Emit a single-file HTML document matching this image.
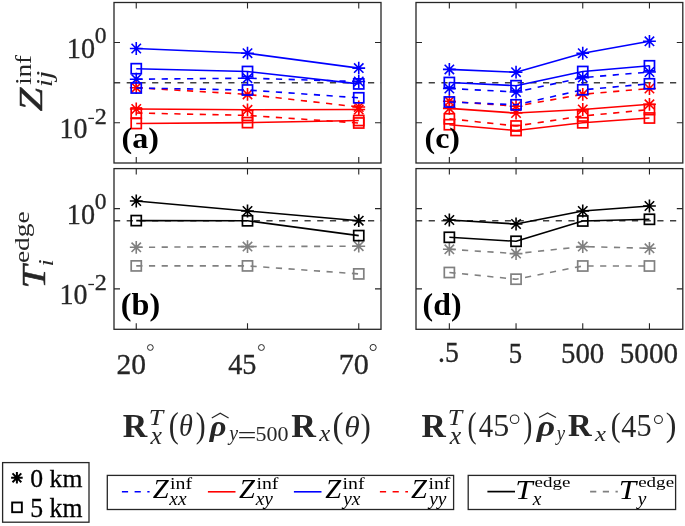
<!DOCTYPE html>
<html><head><meta charset="utf-8"><style>
html,body{margin:0;padding:0;background:#fff;}
svg{display:block;font-family:"Liberation Serif", serif;will-change:transform;}
</style></head><body>
<svg width="685" height="526" viewBox="0 0 685 526">
<rect width="685" height="526" fill="#fff"/>
<path d="M114 82.7H381" stroke="#404040" stroke-width="1.4" stroke-dasharray="6.2 6.5"/>
<path d="M416 82.7H682.8" stroke="#404040" stroke-width="1.4" stroke-dasharray="6.2 6.5"/>
<path d="M114 220.7H381" stroke="#404040" stroke-width="1.4" stroke-dasharray="6.2 6.5"/>
<path d="M416 220.7H682.8" stroke="#404040" stroke-width="1.4" stroke-dasharray="6.2 6.5"/>
<polyline points="136.25,79.20 247.50,78.20 358.75,81.50" stroke="#0000ff" stroke-width="1.6" fill="none" stroke-dasharray="6.2 6.5" stroke-linejoin="round"/>
<path d="M129.85 79.20H142.65M136.25 72.80V85.60M131.55 74.50L140.95 83.90M131.55 83.90L140.95 74.50" stroke="#0000ff" stroke-width="1.6" fill="none"/>
<path d="M241.10 78.20H253.90M247.50 71.80V84.60M242.80 73.50L252.20 82.90M242.80 82.90L252.20 73.50" stroke="#0000ff" stroke-width="1.6" fill="none"/>
<path d="M352.35 81.50H365.15M358.75 75.10V87.90M354.05 76.80L363.45 86.20M354.05 86.20L363.45 76.80" stroke="#0000ff" stroke-width="1.6" fill="none"/>
<polyline points="136.25,109.00 247.50,109.80 358.75,109.50" stroke="#ff0000" stroke-width="1.6" fill="none" stroke-linejoin="round"/>
<path d="M129.85 109.00H142.65M136.25 102.60V115.40M131.55 104.30L140.95 113.70M131.55 113.70L140.95 104.30" stroke="#ff0000" stroke-width="1.6" fill="none"/>
<path d="M241.10 109.80H253.90M247.50 103.40V116.20M242.80 105.10L252.20 114.50M242.80 114.50L252.20 105.10" stroke="#ff0000" stroke-width="1.6" fill="none"/>
<path d="M352.35 109.50H365.15M358.75 103.10V115.90M354.05 104.80L363.45 114.20M354.05 114.20L363.45 104.80" stroke="#ff0000" stroke-width="1.6" fill="none"/>
<polyline points="136.25,48.50 247.50,53.20 358.75,68.10" stroke="#0000ff" stroke-width="1.6" fill="none" stroke-linejoin="round"/>
<path d="M129.85 48.50H142.65M136.25 42.10V54.90M131.55 43.80L140.95 53.20M131.55 53.20L140.95 43.80" stroke="#0000ff" stroke-width="1.6" fill="none"/>
<path d="M241.10 53.20H253.90M247.50 46.80V59.60M242.80 48.50L252.20 57.90M242.80 57.90L252.20 48.50" stroke="#0000ff" stroke-width="1.6" fill="none"/>
<path d="M352.35 68.10H365.15M358.75 61.70V74.50M354.05 63.40L363.45 72.80M354.05 72.80L363.45 63.40" stroke="#0000ff" stroke-width="1.6" fill="none"/>
<polyline points="136.25,87.70 247.50,94.40 358.75,107.00" stroke="#ff0000" stroke-width="1.6" fill="none" stroke-dasharray="6.2 6.5" stroke-linejoin="round"/>
<path d="M129.85 87.70H142.65M136.25 81.30V94.10M131.55 83.00L140.95 92.40M131.55 92.40L140.95 83.00" stroke="#ff0000" stroke-width="1.6" fill="none"/>
<path d="M241.10 94.40H253.90M247.50 88.00V100.80M242.80 89.70L252.20 99.10M242.80 99.10L252.20 89.70" stroke="#ff0000" stroke-width="1.6" fill="none"/>
<path d="M352.35 107.00H365.15M358.75 100.60V113.40M354.05 102.30L363.45 111.70M354.05 111.70L363.45 102.30" stroke="#ff0000" stroke-width="1.6" fill="none"/>
<polyline points="136.25,88.00 247.50,90.00 358.75,97.80" stroke="#0000ff" stroke-width="1.6" fill="none" stroke-dasharray="6.2 6.5" stroke-linejoin="round"/>
<rect x="131.20" y="82.95" width="10.10" height="10.10" stroke="#0000ff" stroke-width="1.7" fill="none"/>
<rect x="242.45" y="84.95" width="10.10" height="10.10" stroke="#0000ff" stroke-width="1.7" fill="none"/>
<rect x="353.70" y="92.75" width="10.10" height="10.10" stroke="#0000ff" stroke-width="1.7" fill="none"/>
<polyline points="136.25,123.50 247.50,122.60 358.75,120.50" stroke="#ff0000" stroke-width="1.6" fill="none" stroke-linejoin="round"/>
<rect x="131.20" y="118.45" width="10.10" height="10.10" stroke="#ff0000" stroke-width="1.7" fill="none"/>
<rect x="242.45" y="117.55" width="10.10" height="10.10" stroke="#ff0000" stroke-width="1.7" fill="none"/>
<rect x="353.70" y="115.45" width="10.10" height="10.10" stroke="#ff0000" stroke-width="1.7" fill="none"/>
<polyline points="136.25,68.70 247.50,71.50 358.75,83.90" stroke="#0000ff" stroke-width="1.6" fill="none" stroke-linejoin="round"/>
<rect x="131.20" y="63.65" width="10.10" height="10.10" stroke="#0000ff" stroke-width="1.7" fill="none"/>
<rect x="242.45" y="66.45" width="10.10" height="10.10" stroke="#0000ff" stroke-width="1.7" fill="none"/>
<rect x="353.70" y="78.85" width="10.10" height="10.10" stroke="#0000ff" stroke-width="1.7" fill="none"/>
<polyline points="136.25,113.00 247.50,115.40 358.75,123.00" stroke="#ff0000" stroke-width="1.6" fill="none" stroke-dasharray="6.2 6.5" stroke-linejoin="round"/>
<rect x="131.20" y="107.95" width="10.10" height="10.10" stroke="#ff0000" stroke-width="1.7" fill="none"/>
<rect x="242.45" y="110.35" width="10.10" height="10.10" stroke="#ff0000" stroke-width="1.7" fill="none"/>
<rect x="353.70" y="117.95" width="10.10" height="10.10" stroke="#ff0000" stroke-width="1.7" fill="none"/>
<polyline points="449.35,88.50 516.05,92.00 582.75,77.60 649.45,72.00" stroke="#0000ff" stroke-width="1.6" fill="none" stroke-dasharray="6.2 6.5" stroke-linejoin="round"/>
<path d="M442.95 88.50H455.75M449.35 82.10V94.90M444.65 83.80L454.05 93.20M444.65 93.20L454.05 83.80" stroke="#0000ff" stroke-width="1.6" fill="none"/>
<path d="M509.65 92.00H522.45M516.05 85.60V98.40M511.35 87.30L520.75 96.70M511.35 96.70L520.75 87.30" stroke="#0000ff" stroke-width="1.6" fill="none"/>
<path d="M576.35 77.60H589.15M582.75 71.20V84.00M578.05 72.90L587.45 82.30M578.05 82.30L587.45 72.90" stroke="#0000ff" stroke-width="1.6" fill="none"/>
<path d="M643.05 72.00H655.85M649.45 65.60V78.40M644.75 67.30L654.15 76.70M644.75 76.70L654.15 67.30" stroke="#0000ff" stroke-width="1.6" fill="none"/>
<polyline points="449.35,108.40 516.05,113.00 582.75,109.50 649.45,104.30" stroke="#ff0000" stroke-width="1.6" fill="none" stroke-linejoin="round"/>
<path d="M442.95 108.40H455.75M449.35 102.00V114.80M444.65 103.70L454.05 113.10M444.65 113.10L454.05 103.70" stroke="#ff0000" stroke-width="1.6" fill="none"/>
<path d="M509.65 113.00H522.45M516.05 106.60V119.40M511.35 108.30L520.75 117.70M511.35 117.70L520.75 108.30" stroke="#ff0000" stroke-width="1.6" fill="none"/>
<path d="M576.35 109.50H589.15M582.75 103.10V115.90M578.05 104.80L587.45 114.20M578.05 114.20L587.45 104.80" stroke="#ff0000" stroke-width="1.6" fill="none"/>
<path d="M643.05 104.30H655.85M649.45 97.90V110.70M644.75 99.60L654.15 109.00M644.75 109.00L654.15 99.60" stroke="#ff0000" stroke-width="1.6" fill="none"/>
<polyline points="449.35,69.40 516.05,72.20 582.75,53.25 649.45,41.30" stroke="#0000ff" stroke-width="1.6" fill="none" stroke-linejoin="round"/>
<path d="M442.95 69.40H455.75M449.35 63.00V75.80M444.65 64.70L454.05 74.10M444.65 74.10L454.05 64.70" stroke="#0000ff" stroke-width="1.6" fill="none"/>
<path d="M509.65 72.20H522.45M516.05 65.80V78.60M511.35 67.50L520.75 76.90M511.35 76.90L520.75 67.50" stroke="#0000ff" stroke-width="1.6" fill="none"/>
<path d="M576.35 53.25H589.15M582.75 46.85V59.65M578.05 48.55L587.45 57.95M578.05 57.95L587.45 48.55" stroke="#0000ff" stroke-width="1.6" fill="none"/>
<path d="M643.05 41.30H655.85M649.45 34.90V47.70M644.75 36.60L654.15 46.00M644.75 46.00L654.15 36.60" stroke="#0000ff" stroke-width="1.6" fill="none"/>
<polyline points="449.35,101.30 516.05,106.20 582.75,94.30 649.45,88.50" stroke="#ff0000" stroke-width="1.6" fill="none" stroke-dasharray="6.2 6.5" stroke-linejoin="round"/>
<path d="M442.95 101.30H455.75M449.35 94.90V107.70M444.65 96.60L454.05 106.00M444.65 106.00L454.05 96.60" stroke="#ff0000" stroke-width="1.6" fill="none"/>
<path d="M509.65 106.20H522.45M516.05 99.80V112.60M511.35 101.50L520.75 110.90M511.35 110.90L520.75 101.50" stroke="#ff0000" stroke-width="1.6" fill="none"/>
<path d="M576.35 94.30H589.15M582.75 87.90V100.70M578.05 89.60L587.45 99.00M578.05 99.00L587.45 89.60" stroke="#ff0000" stroke-width="1.6" fill="none"/>
<path d="M643.05 88.50H655.85M649.45 82.10V94.90M644.75 83.80L654.15 93.20M644.75 93.20L654.15 83.80" stroke="#ff0000" stroke-width="1.6" fill="none"/>
<polyline points="449.35,102.00 516.05,104.80 582.75,89.80 649.45,83.80" stroke="#0000ff" stroke-width="1.6" fill="none" stroke-dasharray="6.2 6.5" stroke-linejoin="round"/>
<rect x="444.30" y="96.95" width="10.10" height="10.10" stroke="#0000ff" stroke-width="1.7" fill="none"/>
<rect x="511.00" y="99.75" width="10.10" height="10.10" stroke="#0000ff" stroke-width="1.7" fill="none"/>
<rect x="577.70" y="84.75" width="10.10" height="10.10" stroke="#0000ff" stroke-width="1.7" fill="none"/>
<rect x="644.40" y="78.75" width="10.10" height="10.10" stroke="#0000ff" stroke-width="1.7" fill="none"/>
<polyline points="449.35,124.70 516.05,130.50 582.75,122.80 649.45,118.00" stroke="#ff0000" stroke-width="1.6" fill="none" stroke-linejoin="round"/>
<rect x="444.30" y="119.65" width="10.10" height="10.10" stroke="#ff0000" stroke-width="1.7" fill="none"/>
<rect x="511.00" y="125.45" width="10.10" height="10.10" stroke="#ff0000" stroke-width="1.7" fill="none"/>
<rect x="577.70" y="117.75" width="10.10" height="10.10" stroke="#ff0000" stroke-width="1.7" fill="none"/>
<rect x="644.40" y="112.95" width="10.10" height="10.10" stroke="#ff0000" stroke-width="1.7" fill="none"/>
<polyline points="449.35,82.50 516.05,85.70 582.75,71.50 649.45,65.80" stroke="#0000ff" stroke-width="1.6" fill="none" stroke-linejoin="round"/>
<rect x="444.30" y="77.45" width="10.10" height="10.10" stroke="#0000ff" stroke-width="1.7" fill="none"/>
<rect x="511.00" y="80.65" width="10.10" height="10.10" stroke="#0000ff" stroke-width="1.7" fill="none"/>
<rect x="577.70" y="66.45" width="10.10" height="10.10" stroke="#0000ff" stroke-width="1.7" fill="none"/>
<rect x="644.40" y="60.75" width="10.10" height="10.10" stroke="#0000ff" stroke-width="1.7" fill="none"/>
<polyline points="449.35,118.80 516.05,126.00 582.75,116.00 649.45,109.60" stroke="#ff0000" stroke-width="1.6" fill="none" stroke-dasharray="6.2 6.5" stroke-linejoin="round"/>
<rect x="444.30" y="113.75" width="10.10" height="10.10" stroke="#ff0000" stroke-width="1.7" fill="none"/>
<rect x="511.00" y="120.95" width="10.10" height="10.10" stroke="#ff0000" stroke-width="1.7" fill="none"/>
<rect x="577.70" y="110.95" width="10.10" height="10.10" stroke="#ff0000" stroke-width="1.7" fill="none"/>
<rect x="644.40" y="104.55" width="10.10" height="10.10" stroke="#ff0000" stroke-width="1.7" fill="none"/>
<polyline points="136.25,201.00 247.50,211.00 358.75,220.70" stroke="#000000" stroke-width="1.6" fill="none" stroke-linejoin="round"/>
<path d="M129.85 201.00H142.65M136.25 194.60V207.40M131.55 196.30L140.95 205.70M131.55 205.70L140.95 196.30" stroke="#000000" stroke-width="1.6" fill="none"/>
<path d="M241.10 211.00H253.90M247.50 204.60V217.40M242.80 206.30L252.20 215.70M242.80 215.70L252.20 206.30" stroke="#000000" stroke-width="1.6" fill="none"/>
<path d="M352.35 220.70H365.15M358.75 214.30V227.10M354.05 216.00L363.45 225.40M354.05 225.40L363.45 216.00" stroke="#000000" stroke-width="1.6" fill="none"/>
<polyline points="136.25,247.30 247.50,246.60 358.75,246.20" stroke="#808080" stroke-width="1.6" fill="none" stroke-dasharray="6.2 6.5" stroke-linejoin="round"/>
<path d="M129.85 247.30H142.65M136.25 240.90V253.70M131.55 242.60L140.95 252.00M131.55 252.00L140.95 242.60" stroke="#808080" stroke-width="1.6" fill="none"/>
<path d="M241.10 246.60H253.90M247.50 240.20V253.00M242.80 241.90L252.20 251.30M242.80 251.30L252.20 241.90" stroke="#808080" stroke-width="1.6" fill="none"/>
<path d="M352.35 246.20H365.15M358.75 239.80V252.60M354.05 241.50L363.45 250.90M354.05 250.90L363.45 241.50" stroke="#808080" stroke-width="1.6" fill="none"/>
<polyline points="136.25,220.60 247.50,220.80 358.75,235.60" stroke="#000000" stroke-width="1.6" fill="none" stroke-linejoin="round"/>
<rect x="131.20" y="215.55" width="10.10" height="10.10" stroke="#000000" stroke-width="1.7" fill="none"/>
<rect x="242.45" y="215.75" width="10.10" height="10.10" stroke="#000000" stroke-width="1.7" fill="none"/>
<rect x="353.70" y="230.55" width="10.10" height="10.10" stroke="#000000" stroke-width="1.7" fill="none"/>
<polyline points="136.25,265.90 247.50,265.90 358.75,273.90" stroke="#808080" stroke-width="1.6" fill="none" stroke-dasharray="6.2 6.5" stroke-linejoin="round"/>
<rect x="131.20" y="260.85" width="10.10" height="10.10" stroke="#808080" stroke-width="1.7" fill="none"/>
<rect x="242.45" y="260.85" width="10.10" height="10.10" stroke="#808080" stroke-width="1.7" fill="none"/>
<rect x="353.70" y="268.85" width="10.10" height="10.10" stroke="#808080" stroke-width="1.7" fill="none"/>
<polyline points="449.35,220.00 516.05,224.00 582.75,211.00 649.45,206.00" stroke="#000000" stroke-width="1.6" fill="none" stroke-linejoin="round"/>
<path d="M442.95 220.00H455.75M449.35 213.60V226.40M444.65 215.30L454.05 224.70M444.65 224.70L454.05 215.30" stroke="#000000" stroke-width="1.6" fill="none"/>
<path d="M509.65 224.00H522.45M516.05 217.60V230.40M511.35 219.30L520.75 228.70M511.35 228.70L520.75 219.30" stroke="#000000" stroke-width="1.6" fill="none"/>
<path d="M576.35 211.00H589.15M582.75 204.60V217.40M578.05 206.30L587.45 215.70M578.05 215.70L587.45 206.30" stroke="#000000" stroke-width="1.6" fill="none"/>
<path d="M643.05 206.00H655.85M649.45 199.60V212.40M644.75 201.30L654.15 210.70M644.75 210.70L654.15 201.30" stroke="#000000" stroke-width="1.6" fill="none"/>
<polyline points="449.35,249.30 516.05,253.60 582.75,246.60 649.45,248.30" stroke="#808080" stroke-width="1.6" fill="none" stroke-dasharray="6.2 6.5" stroke-linejoin="round"/>
<path d="M442.95 249.30H455.75M449.35 242.90V255.70M444.65 244.60L454.05 254.00M444.65 254.00L454.05 244.60" stroke="#808080" stroke-width="1.6" fill="none"/>
<path d="M509.65 253.60H522.45M516.05 247.20V260.00M511.35 248.90L520.75 258.30M511.35 258.30L520.75 248.90" stroke="#808080" stroke-width="1.6" fill="none"/>
<path d="M576.35 246.60H589.15M582.75 240.20V253.00M578.05 241.90L587.45 251.30M578.05 251.30L587.45 241.90" stroke="#808080" stroke-width="1.6" fill="none"/>
<path d="M643.05 248.30H655.85M649.45 241.90V254.70M644.75 243.60L654.15 253.00M644.75 253.00L654.15 243.60" stroke="#808080" stroke-width="1.6" fill="none"/>
<polyline points="449.35,237.30 516.05,241.30 582.75,221.00 649.45,219.30" stroke="#000000" stroke-width="1.6" fill="none" stroke-linejoin="round"/>
<rect x="444.30" y="232.25" width="10.10" height="10.10" stroke="#000000" stroke-width="1.7" fill="none"/>
<rect x="511.00" y="236.25" width="10.10" height="10.10" stroke="#000000" stroke-width="1.7" fill="none"/>
<rect x="577.70" y="215.95" width="10.10" height="10.10" stroke="#000000" stroke-width="1.7" fill="none"/>
<rect x="644.40" y="214.25" width="10.10" height="10.10" stroke="#000000" stroke-width="1.7" fill="none"/>
<polyline points="449.35,272.50 516.05,279.20 582.75,266.00 649.45,266.00" stroke="#808080" stroke-width="1.6" fill="none" stroke-dasharray="6.2 6.5" stroke-linejoin="round"/>
<rect x="444.30" y="267.45" width="10.10" height="10.10" stroke="#808080" stroke-width="1.7" fill="none"/>
<rect x="511.00" y="274.15" width="10.10" height="10.10" stroke="#808080" stroke-width="1.7" fill="none"/>
<rect x="577.70" y="260.95" width="10.10" height="10.10" stroke="#808080" stroke-width="1.7" fill="none"/>
<rect x="644.40" y="260.95" width="10.10" height="10.10" stroke="#808080" stroke-width="1.7" fill="none"/>
<rect x="114" y="2.5" width="267" height="160.5" fill="none" stroke="#262626" stroke-width="1.3"/>
<path d="M136.25 2.5v6M136.25 163v-6" stroke="#262626" stroke-width="1.1"/>
<path d="M247.5 2.5v6M247.5 163v-6" stroke="#262626" stroke-width="1.1"/>
<path d="M358.75 2.5v6M358.75 163v-6" stroke="#262626" stroke-width="1.1"/>
<path d="M114 42.5h6M381 42.5h-6" stroke="#262626" stroke-width="1.1"/>
<path d="M114 122.7h6M381 122.7h-6" stroke="#262626" stroke-width="1.1"/>
<rect x="114" y="168.6" width="267" height="160.70000000000002" fill="none" stroke="#262626" stroke-width="1.3"/>
<path d="M136.25 168.6v6M136.25 329.3v-6" stroke="#262626" stroke-width="1.1"/>
<path d="M247.5 168.6v6M247.5 329.3v-6" stroke="#262626" stroke-width="1.1"/>
<path d="M358.75 168.6v6M358.75 329.3v-6" stroke="#262626" stroke-width="1.1"/>
<path d="M114 208.6h6M381 208.6h-6" stroke="#262626" stroke-width="1.1"/>
<path d="M114 288.9h6M381 288.9h-6" stroke="#262626" stroke-width="1.1"/>
<rect x="416" y="2.5" width="266.79999999999995" height="160.5" fill="none" stroke="#262626" stroke-width="1.3"/>
<path d="M449.35 2.5v6M449.35 163v-6" stroke="#262626" stroke-width="1.1"/>
<path d="M516.05 2.5v6M516.05 163v-6" stroke="#262626" stroke-width="1.1"/>
<path d="M582.75 2.5v6M582.75 163v-6" stroke="#262626" stroke-width="1.1"/>
<path d="M649.45 2.5v6M649.45 163v-6" stroke="#262626" stroke-width="1.1"/>
<path d="M416 42.5h6M682.8 42.5h-6" stroke="#262626" stroke-width="1.1"/>
<path d="M416 122.7h6M682.8 122.7h-6" stroke="#262626" stroke-width="1.1"/>
<rect x="416" y="168.6" width="266.79999999999995" height="160.70000000000002" fill="none" stroke="#262626" stroke-width="1.3"/>
<path d="M449.35 168.6v6M449.35 329.3v-6" stroke="#262626" stroke-width="1.1"/>
<path d="M516.05 168.6v6M516.05 329.3v-6" stroke="#262626" stroke-width="1.1"/>
<path d="M582.75 168.6v6M582.75 329.3v-6" stroke="#262626" stroke-width="1.1"/>
<path d="M649.45 168.6v6M649.45 329.3v-6" stroke="#262626" stroke-width="1.1"/>
<path d="M416 208.6h6M682.8 208.6h-6" stroke="#262626" stroke-width="1.1"/>
<path d="M416 288.9h6M682.8 288.9h-6" stroke="#262626" stroke-width="1.1"/>
<g fill="#262626" stroke="#262626" stroke-width="0.3">
<text transform="translate(66.83,57.70) scale(0.953,1)" font-size="29.63">10</text>
<text transform="translate(94.72,43.36) scale(0.999,1)" font-size="23.56">0</text>
<text transform="translate(59.55,137.90) scale(0.945,1)" font-size="29.63">10</text>
<path d="M88.3 118.4H94" stroke="#262626" stroke-width="1.3"/>
<text transform="translate(94.64,123.70) scale(1.020,1)" font-size="23.70">2</text>
<text transform="translate(66.83,223.80) scale(0.953,1)" font-size="29.63">10</text>
<text transform="translate(94.72,209.46) scale(0.999,1)" font-size="23.56">0</text>
<text transform="translate(59.55,304.00) scale(0.945,1)" font-size="29.63">10</text>
<path d="M88.3 284.5H94" stroke="#262626" stroke-width="1.3"/>
<text transform="translate(94.64,289.80) scale(1.020,1)" font-size="23.70">2</text>
<text transform="translate(116.61,373.91) scale(1.007,1)" font-size="29.30">20</text>
<circle cx="150.35" cy="347.50" r="2.88" fill="none" stroke="#262626" stroke-width="1.0"/>
<text transform="translate(228.13,373.91) scale(0.965,1)" font-size="29.30">45</text>
<circle cx="261.40" cy="347.50" r="2.95" fill="none" stroke="#262626" stroke-width="1.0"/>
<text transform="translate(338.70,373.91) scale(1.032,1)" font-size="29.30">70</text>
<circle cx="373.15" cy="347.50" r="3.08" fill="none" stroke="#262626" stroke-width="1.0"/>
<text transform="translate(438.06,362.40) scale(0.947,1)" font-size="29.30">.5</text>
<text transform="translate(508.76,362.51) scale(0.913,1)" font-size="29.30">5</text>
<text transform="translate(561.04,362.51) scale(0.984,1)" font-size="29.30">500</text>
<text transform="translate(619.83,362.51) scale(0.993,1)" font-size="29.30">5000</text>
</g>
<text transform="translate(121.60,148.20) scale(1.066,1)" font-size="30.12" font-weight="bold">(a)</text>
<text transform="translate(120.79,314.68) scale(1.049,1)" font-size="30.68" font-weight="bold">(b)</text>
<text transform="translate(424.50,148.20) scale(1.063,1)" font-size="30.12" font-weight="bold">(c)</text>
<text transform="translate(422.61,314.68) scale(1.038,1)" font-size="30.68" font-weight="bold">(d)</text>
<g fill="#262626">
<g transform="translate(42.3,110.6) rotate(-90)">
<text stroke="#262626" stroke-width="0.5" transform="translate(-0.53,0.00) scale(1.279,1)" font-size="32.98" font-style="italic">Z</text>
<text transform="translate(25.83,-11.50) scale(1.197,1)" font-size="22.31">inf</text>
<text transform="translate(23.32,9.34) scale(1.300,1)" font-size="22.86" font-style="italic">ij</text>
</g>
<g transform="translate(44.7,285.7) rotate(-90)">
<text stroke="#262626" stroke-width="0.5" transform="translate(-2.69,0.00) scale(1.251,1)" font-size="33.13" font-style="italic">T</text>
<text transform="translate(22.64,-16.07) scale(1.324,1)" font-size="20.66">edge</text>
<text transform="translate(19.22,8.30) scale(1.200,1)" font-size="21.58" font-style="italic">i</text>
</g>
</g>
<g fill="#262626">
<text transform="translate(122.71,436.50) scale(1.023,1)" font-size="33.13" font-weight="bold">R</text>
<text transform="translate(148.71,424.70) scale(1.159,1)" font-size="22.44" font-style="italic">T</text>
<text transform="translate(150.52,444.20) scale(1.040,1)" font-size="24.85" font-style="italic">x</text>
<text transform="translate(168.79,436.89) scale(0.858,1)" font-size="34.87">(</text>
<text transform="translate(178.93,436.39) scale(0.908,1)" font-size="31.04" font-style="italic">θ</text>
<text transform="translate(195.74,436.89) scale(0.851,1)" font-size="34.87">)</text>
<text transform="translate(209.71,436.25) scale(1.138,1)" font-size="28.48" font-weight="bold" font-style="italic">ρ</text>
<path d="M211.8 418.0L220.2 413.2L228.6 418.0" stroke="#262626" stroke-width="1.2" fill="none" stroke-linejoin="miter"/>
<text transform="translate(229.26,440.02) scale(0.918,1)" font-size="21.63" font-style="italic">y</text>
<text transform="translate(237.61,442.51) scale(1.455,1)" font-size="23.20">=</text>
<text transform="translate(255.54,440.98) scale(1.017,1)" font-size="21.63">500</text>
<text transform="translate(291.30,436.50) scale(1.037,1)" font-size="32.98" font-weight="bold">R</text>
<text transform="translate(319.21,441.10) scale(1.081,1)" font-size="22.89" font-style="italic">x</text>
<text transform="translate(332.56,437.01) scale(0.950,1)" font-size="34.76">(</text>
<text transform="translate(344.26,436.90) scale(1.064,1)" font-size="29.63" font-style="italic">θ</text>
<text transform="translate(360.60,437.01) scale(0.887,1)" font-size="34.76">)</text>
<text transform="translate(421.41,436.50) scale(1.020,1)" font-size="32.98" font-weight="bold">R</text>
<text transform="translate(447.71,424.70) scale(1.159,1)" font-size="22.44" font-style="italic">T</text>
<text transform="translate(449.72,444.20) scale(1.040,1)" font-size="24.85" font-style="italic">x</text>
<text transform="translate(467.61,436.92) scale(0.772,1)" font-size="35.20">(</text>
<text transform="translate(478.72,436.80) scale(0.879,1)" font-size="32.79">4</text>
<text transform="translate(493.16,436.48) scale(0.984,1)" font-size="32.48">5</text>
<circle cx="514.60" cy="419.25" r="4.27" fill="none" stroke="#262626" stroke-width="1.1"/>
<text transform="translate(523.31,436.92) scale(0.776,1)" font-size="35.20">)</text>
<text transform="translate(536.69,436.19) scale(1.224,1)" font-size="29.21" font-weight="bold" font-style="italic">ρ</text>
<path d="M539.1 417.5L547.55 412.9L556.0 417.5" stroke="#262626" stroke-width="1.2" fill="none" stroke-linejoin="miter"/>
<text transform="translate(556.67,440.02) scale(0.866,1)" font-size="21.63" font-style="italic">y</text>
<text transform="translate(567.93,436.20) scale(1.008,1)" font-size="32.52" font-weight="bold">R</text>
<text transform="translate(595.11,441.20) scale(1.220,1)" font-size="20.27" font-style="italic">x</text>
<text transform="translate(610.71,436.25) scale(0.866,1)" font-size="34.10">(</text>
<text transform="translate(621.30,436.50) scale(0.944,1)" font-size="31.88">4</text>
<text transform="translate(636.56,436.18) scale(0.957,1)" font-size="31.58">5</text>
<circle cx="658.45" cy="419.60" r="3.97" fill="none" stroke="#262626" stroke-width="1.1"/>
<text transform="translate(665.86,436.25) scale(0.939,1)" font-size="34.10">)</text>
</g>
<rect x="2.6" y="462.6" width="86.4" height="59.6" fill="#fff" stroke="#262626" stroke-width="1.3"/>
<path d="M11.10 477.80H22.70M16.90 472.00V483.60M12.50 473.40L21.30 482.20M12.50 482.20L21.30 473.40" stroke="#000" stroke-width="2.0" fill="none"/>
<circle cx="16.9" cy="477.8" r="1.8" fill="#000"/>
<rect x="12.15" y="502.50" width="9.70" height="9.70" stroke="#000" stroke-width="1.9" fill="none"/>
<g stroke="#000" stroke-width="0.3">
<text transform="translate(30.34,487.44) scale(0.987,1)" font-size="26.00">0 km</text>
<text transform="translate(30.32,517.14) scale(0.973,1)" font-size="26.40">5 km</text>
</g>
<rect x="107.3" y="475.4" width="346.3" height="34.1" fill="#fff" stroke="#262626" stroke-width="1.3"/>
<path d="M121.9 491.8H149.6" stroke="#0000ff" stroke-width="1.6" stroke-dasharray="6.2 6.5"/>
<text transform="translate(152.64,498.40) scale(1.052,1)" font-size="27.18" font-style="italic">Z</text>
<text transform="translate(169.98,489.20) scale(1.116,1)" font-size="17.76">inf</text>
<text transform="translate(169.34,504.90) scale(1.080,1)" font-size="18.00" font-style="italic">xx</text>
<path d="M207.9 491.8H235.5" stroke="#ff0000" stroke-width="1.6"/>
<text transform="translate(239.04,498.40) scale(1.052,1)" font-size="27.18" font-style="italic">Z</text>
<text transform="translate(256.38,489.20) scale(1.116,1)" font-size="17.76">inf</text>
<text transform="translate(255.74,504.90) scale(1.080,1)" font-size="18.00" font-style="italic">xy</text>
<path d="M293.9 491.8H321.5" stroke="#0000ff" stroke-width="1.6"/>
<text transform="translate(325.14,498.40) scale(1.052,1)" font-size="27.18" font-style="italic">Z</text>
<text transform="translate(342.48,489.20) scale(1.116,1)" font-size="17.76">inf</text>
<text transform="translate(343.23,504.90) scale(1.080,1)" font-size="18.00" font-style="italic">yx</text>
<path d="M379.9 491.8H408" stroke="#ff0000" stroke-width="1.6" stroke-dasharray="6.2 6.5"/>
<text transform="translate(411.04,498.40) scale(1.052,1)" font-size="27.18" font-style="italic">Z</text>
<text transform="translate(428.38,489.20) scale(1.116,1)" font-size="17.76">inf</text>
<text transform="translate(429.13,504.90) scale(1.080,1)" font-size="18.00" font-style="italic">yy</text>
<rect x="468.2" y="475.4" width="207.4" height="34.1" fill="#fff" stroke="#262626" stroke-width="1.3"/>
<path d="M487.4 491.6H515" stroke="#000" stroke-width="1.7"/>
<text transform="translate(515.17,499.00) scale(1.170,1)" font-size="26.72" font-style="italic">T</text>
<text transform="translate(534.56,487.25) scale(1.396,1)" font-size="13.63">edge</text>
<text transform="translate(532.64,504.80) scale(1.080,1)" font-size="18.00" font-style="italic">x</text>
<path d="M590.1 491.6H617.8" stroke="#808080" stroke-width="1.7" stroke-dasharray="6.2 6.5"/>
<text transform="translate(618.77,499.00) scale(1.170,1)" font-size="26.72" font-style="italic">T</text>
<text transform="translate(638.16,487.25) scale(1.396,1)" font-size="13.63">edge</text>
<text transform="translate(637.63,504.80) scale(1.080,1)" font-size="18.00" font-style="italic">y</text>
</svg>
</body></html>
